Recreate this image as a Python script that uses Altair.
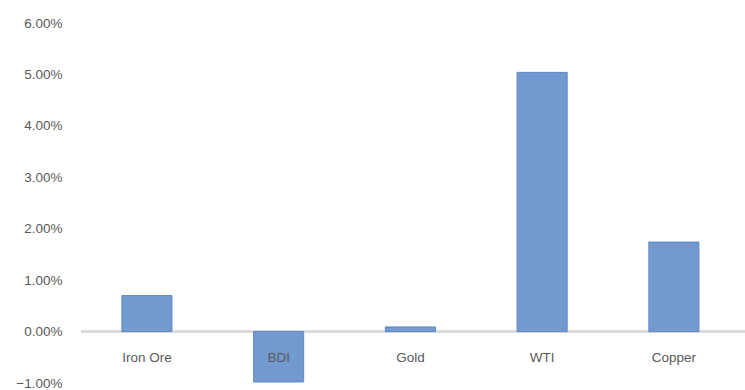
import altair as alt
import pandas as pd

categories = ["Iron Ore", "BDI", "Gold", "WTI", "Copper"]
values = [0.0070, -0.0098, 0.0009, 0.0504, 0.0174]
y_ticks = [-0.01, 0.0, 0.01, 0.02, 0.03, 0.04, 0.05, 0.06]

df = pd.DataFrame({"cat": categories, "val": values})

FONT = "Liberation Sans"
GRAY = "#595959"

x_enc = alt.X("cat:N", sort=categories,
              scale=alt.Scale(paddingInner=0.62, paddingOuter=0.33, align=0.47),
              axis=None)

bars = alt.Chart(df).mark_bar(color="#7399d1", stroke="#5b87c5", strokeWidth=1).encode(
    x=x_enc,
    y=alt.Y("val:Q",
            scale=alt.Scale(domain=[-0.01, 0.06], nice=False, zero=False),
            axis=alt.Axis(values=y_ticks, format=".2%", grid=False, domain=False,
                          ticks=False, labelFont=FONT, labelFontSize=13.5,
                          labelColor=GRAY, labelPadding=19, title=None)),
)

zero = alt.Chart(df).mark_rule(color="#d9d9d9", strokeWidth=2).encode(
    y=alt.datum(0)
)

labels = alt.Chart(df).mark_text(font=FONT, fontSize=13.5, color=GRAY, dy=26).encode(
    x=x_enc,
    y=alt.datum(0),
    text="cat:N",
)

chart = alt.layer(zero, bars, labels).properties(
    width=664, height=360,
    autosize=alt.AutoSizeParams(type="none"),
    padding={"left": 81, "top": 23, "right": 0, "bottom": 7},
).configure_view(stroke=None)

chart.save("out.html", embed_options={"renderer": "svg", "actions": False})
